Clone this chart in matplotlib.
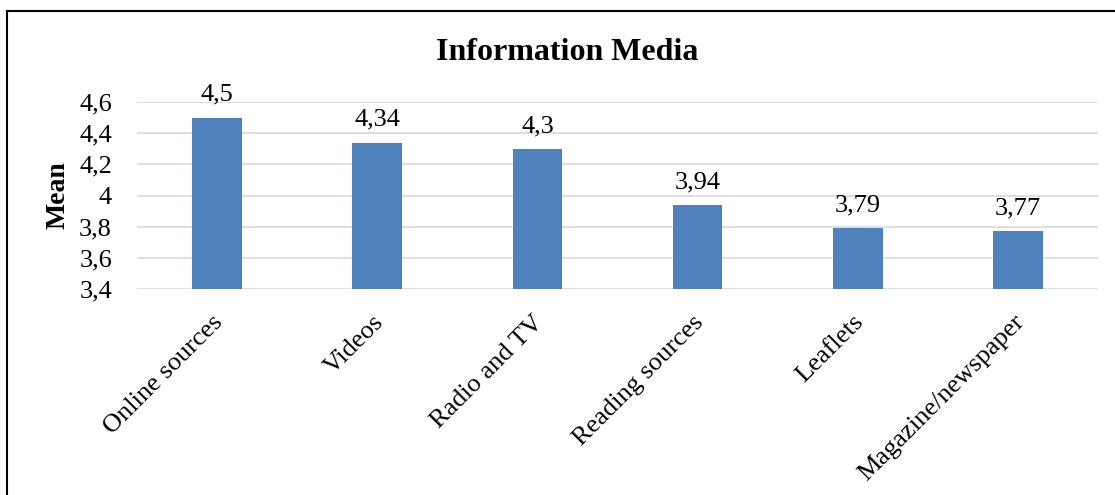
import matplotlib.pyplot as plt
import matplotlib.transforms as mtransforms
from matplotlib.ticker import FuncFormatter
from matplotlib.lines import Line2D

categories = ["Online sources", "Videos", "Radio and TV", "Reading sources",
              "Leaflets", "Magazine/newspaper"]
means = [4.5, 4.34, 4.3, 3.94, 3.79, 3.77]
yticks = [3.4, 3.6, 3.8, 4.0, 4.2, 4.4, 4.6]

plt.rcParams['font.family'] = ['Liberation Serif', 'DejaVu Serif']
plt.rcParams['font.size'] = 19

def comma(v, pos=None):
    s = ('%.2f' % v).rstrip('0').rstrip('.')
    return s.replace('.', ',')

fig = plt.figure(figsize=(11.15, 4.95), dpi=100)
ax = fig.add_axes([137/1115, 1-289/495, 961/1115, 187/495])

x = range(len(categories))
bars = ax.bar(x, means, width=0.31, color='#4F81BD', zorder=3)
for xi, v in zip(x, means):
    ax.annotate(comma(v), (xi, v), xytext=(0, 12), textcoords='offset points',
                ha='center', va='baseline', fontsize=19)

ax.set_ylim(3.4, 4.6)
ax.set_xlim(-0.5, len(categories) - 0.5)
ax.set_yticks(yticks)
ax.yaxis.set_major_formatter(FuncFormatter(comma))
ax.set_xticks(list(x))
ax.set_xticklabels(categories, rotation=45, ha='right', rotation_mode='anchor')
ax.tick_params(axis='both', length=0)
ax.tick_params(axis='y', pad=18)
ax.tick_params(axis='x', pad=16)
shift = mtransforms.ScaledTranslation(-0.05, 0, fig.dpi_scale_trans)
for lbl in ax.get_xticklabels():
    lbl.set_transform(lbl.get_transform() + shift)
ax.grid(axis='y', color='#D9D9D9', linewidth=1.2, zorder=0)
for s in ax.spines.values():
    s.set_visible(False)

ax.set_ylabel("Mean", fontweight='bold', fontsize=20, labelpad=6)
fig.text(567/1115, 1-52/495, "Information Media", ha='center', va='center',
         fontweight='bold', fontsize=23)

# outer frame (top and left edges visible in the original)
fig.add_artist(Line2D([7/1115, 1], [1-11/495, 1-11/495], color='black',
                      linewidth=1.5, transform=fig.transFigure))
fig.add_artist(Line2D([7/1115, 7/1115], [0, 1-11/495], color='black',
                      linewidth=1.5, transform=fig.transFigure))

fig.savefig('out.png', dpi=100)
